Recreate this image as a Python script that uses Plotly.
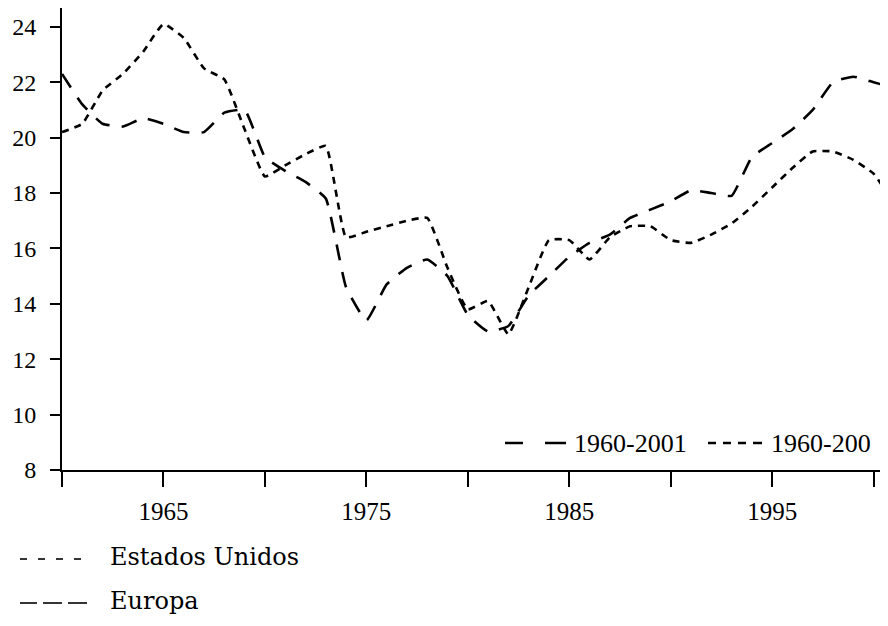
import plotly.graph_objects as go

# --- Data ---
years = list(range(1960, 2002))

estados_unidos = [
    20.2, 20.5, 21.7, 22.3, 23.1, 24.1, 23.6, 22.5, 22.1, 20.3,
    18.6, 19.0, 19.4, 19.7, 16.4, 16.6, 16.8, 17.0, 17.1, 15.3,
    13.8, 14.1, 12.9, 14.6, 16.3, 16.3, 15.6, 16.4, 16.8, 16.8,
    16.3, 16.2, 16.5, 16.9, 17.5, 18.2, 18.9, 19.5, 19.5, 19.2,
    18.7, 17.6,
]

europa = [
    22.3, 21.2, 20.5, 20.4, 20.7, 20.5, 20.2, 20.2, 20.9, 21.0,
    19.3, 18.8, 18.4, 17.8, 14.6, 13.4, 14.7, 15.3, 15.6, 15.0,
    13.6, 13.0, 13.2, 14.3, 15.0, 15.7, 16.2, 16.5, 17.1, 17.4,
    17.7, 18.1, 18.0, 17.9, 19.3, 19.8, 20.3, 21.0, 22.0, 22.2,
    22.0, 21.8,
]

x_tickvals = [1960, 1965, 1970, 1975, 1980, 1985, 1990, 1995, 2000]
x_ticktext = ["", "1965", "", "1975", "", "1985", "", "1995", ""]
y_tickvals = [8, 10, 12, 14, 16, 18, 20, 22, 24]

# legend keys: label, key segments (x0, x1), text x, centre y -- page pixels
period_keys = [("1960-2001", [(505, 523), (545, 566)], 572, 443),
               ("1960-200", [(708, 716), (723, 731), (738, 746), (753, 762)], 769, 443)]
series_keys = [("Estados Unidos", [(20, 27), (38, 45), (56, 63), (74, 81)], 108, 557),
               ("Europa", [(20, 37), (43, 62), (68, 87)], 108, 601)]

SHORT_DASH = "7px,6px"
LONG_DASH = "16px,12px"
SERIF = "Liberation Serif"

# the page body adds an 8px margin, so figure coords = page coords - 8
OFF = 8
# plot box in page pixels
L, R, T, B = 62, 888, 8, 470


def px_x(px):
    return (px - L) / (R - L)


def px_y(py):
    return (B - py) / (B - T)


fig = go.Figure()

fig.add_trace(go.Scatter(
    x=years, y=estados_unidos, mode="lines", name="Estados Unidos",
    line=dict(color="black", width=2.6, dash=SHORT_DASH, shape="spline", smoothing=0.4),
))
fig.add_trace(go.Scatter(
    x=years, y=europa, mode="lines", name="Europa",
    line=dict(color="black", width=2.6, dash=LONG_DASH, shape="spline", smoothing=0.4),
))

# --- keys: short strokes with text next to them ---
def add_key(label, segs, tx, cy, font, width, dy=0):
    for x0, x1 in segs:
        fig.add_shape(type="line", xref="paper", yref="paper",
                      x0=px_x(x0), x1=px_x(x1), y0=px_y(cy + dy), y1=px_y(cy + dy),
                      line=dict(color="black", width=width))
    fig.add_annotation(text=label, xref="paper", yref="paper",
                       x=px_x(tx), y=px_y(cy), xanchor="left", yanchor="middle",
                       showarrow=False, font=font)


for label, segs, tx, cy in period_keys:
    add_key(label, segs, tx, cy, dict(family=SERIF, size=26), 2.5)

for label, segs, tx, cy in series_keys:
    add_key(label, segs, tx, cy, dict(family="DejaVu Serif", size=24), 1.6, dy=2)

fig.update_layout(
    width=888, height=626,
    margin=dict(l=L - OFF, r=888 - (R - OFF), t=T - OFF, b=626 - (B - OFF)),
    plot_bgcolor="white", paper_bgcolor="white",
    font=dict(family=SERIF, color="black", size=24),
    showlegend=False,
)

fig.update_xaxes(
    range=[1960, 2000.71], tickvals=x_tickvals, ticktext=x_ticktext,
    showgrid=False, zeroline=False, automargin=False,
    showline=True, linecolor="black", linewidth=2,
    ticks="outside", ticklen=15, tickwidth=2, tickcolor="black",
    tickfont=dict(family=SERIF, size=25), ticklabelstandoff=3,
)
fig.update_yaxes(
    range=[8, 24.68], tickvals=y_tickvals,
    showgrid=False, zeroline=False, automargin=False,
    showline=True, linecolor="black", linewidth=2,
    ticks="outside", ticklen=10, tickwidth=2, tickcolor="black",
    tickfont=dict(family=SERIF, size=24), ticklabelstandoff=9,
)

fig.write_html("out.html")
